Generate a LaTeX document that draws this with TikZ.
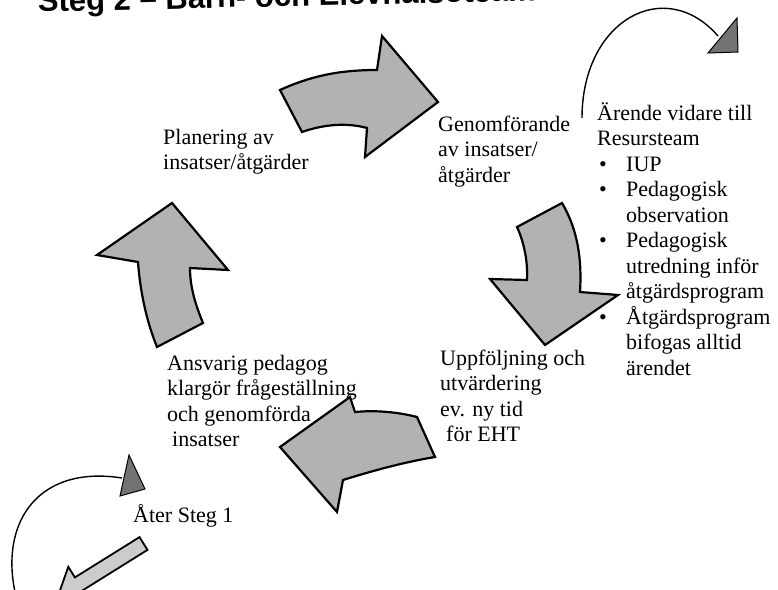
\documentclass[tikz,border=0pt]{standalone}
\usepackage{fontspec}
\setmainfont{Liberation Serif}
\newfontfamily\titlefont{Liberation Sans}
\usepackage{tikz}

\begin{document}
\begin{tikzpicture}[x=1pt,y=-1pt]
                \tikzstyle{blockarrow} = [draw=black, line width=2.2pt, fill=black!30, line join=miter]
                \tikzstyle{smallarrow} = [draw=black, line width=1.8pt, fill=black!20, line join=miter]
                \tikzstyle{headtri} = [draw=black, line width=1pt, fill=black!55]
                \tikzstyle{loopline} = [black, line width=1.4pt]
                \tikzstyle{steptext} = [inner sep=0pt, anchor=base west, align=left, font=\fontsize{22}{25.5}\selectfont]
                \useasboundingbox (0,0) rectangle (778,589);
                % title, cut at the top edge (anchor = baseline of the last line everywhere)
                \node[anchor=base west, inner sep=0pt, rotate=1.3, font=\titlefont\bfseries\fontsize{31}{32}\selectfont] (title) at (38,12) {Steg 2 – Barn- och Elevhälsoteam};
                % texts of the cycle
                \node[steptext] (plan) at (163,169.5) {Planering av\\insatser/åtgärder};
                \node[steptext] (genom) at (438,182) {Genomförande\\av insatser/\\åtgärder};
                \node[steptext] (uppf) at (440,441.5) {Uppföljning och\\utvärdering\\ev. ny tid\\\hspace*{6pt}för EHT};
                \node[steptext] (ansv) at (167,446.5) {Ansvarig pedagog\\klargör frågeställning\\och genomförda\\\hspace*{5pt}insatser};
                \node[steptext] (arende) at (597,375) {Ärende vidare till\\Resursteam\\
                    \hspace*{2pt}\makebox[27pt][l]{\textbullet}IUP\\
                    \hspace*{2pt}\makebox[27pt][l]{\textbullet}Pedagogisk\\
                    \hspace*{29pt}observation\\
                    \hspace*{2pt}\makebox[27pt][l]{\textbullet}Pedagogisk\\
                    \hspace*{29pt}utredning inför\\
                    \hspace*{29pt}åtgärdsprogram\\
                    \hspace*{2pt}\makebox[27pt][l]{\textbullet}Åtgärdsprogram\\
                    \hspace*{29pt}bifogas alltid\\
                    \hspace*{29pt}ärendet};
                \node[steptext] (ater) at (133,522) {Åter Steg 1};
                % block arrows
                \draw[blockarrow] (280,90) .. controls (315,74) and (345,70) .. (377,70) -- (382,36) -- (438,102) -- (365,157) -- (367,128) .. controls (345,122) and (322,125) .. (302,132) -- cycle;
                \draw[blockarrow] (517,227) -- (562,203) .. controls (578,230) and (582,260) .. (580,292) -- (618,295) -- (545,345) -- (490,279) -- (527,280) .. controls (528,262) and (524,242) .. (517,227) -- cycle;
                \draw[blockarrow] (350,397) -- (355,412) .. controls (375,410) and (398,412) .. (417,417) -- (435,457) .. controls (405,462) and (375,470) .. (343,480) -- (337,512) -- (280,447) -- cycle;
                \draw[blockarrow] (172,203) -- (228,270) -- (190,268) .. controls (190,288) and (196,306) .. (203,323) -- (157,347) .. controls (146,320) and (140,290) .. (138,262) -- (97,255) -- cycle;
                % loops out of the cycle
                \draw[loopline] (582,118) .. controls (582,20) and (665,-25) .. (718,36);
                \draw[headtri] (737,18) -- (738,52) -- (708,53) -- cycle;
                \draw[loopline] (15,592) .. controls (0,520) and (40,465) .. (122,478);
                \draw[headtri] (129,455) -- (145,489) -- (120,496) -- cycle;
                \draw[smallarrow] (139.5,537.1) -- (147.5,549.9) -- (82.9,590.2) -- (89.5,600.8) -- (57.6,597.1) -- (68.3,566.8) -- (74.9,577.4) -- cycle;
            \end{tikzpicture}
\end{document}
